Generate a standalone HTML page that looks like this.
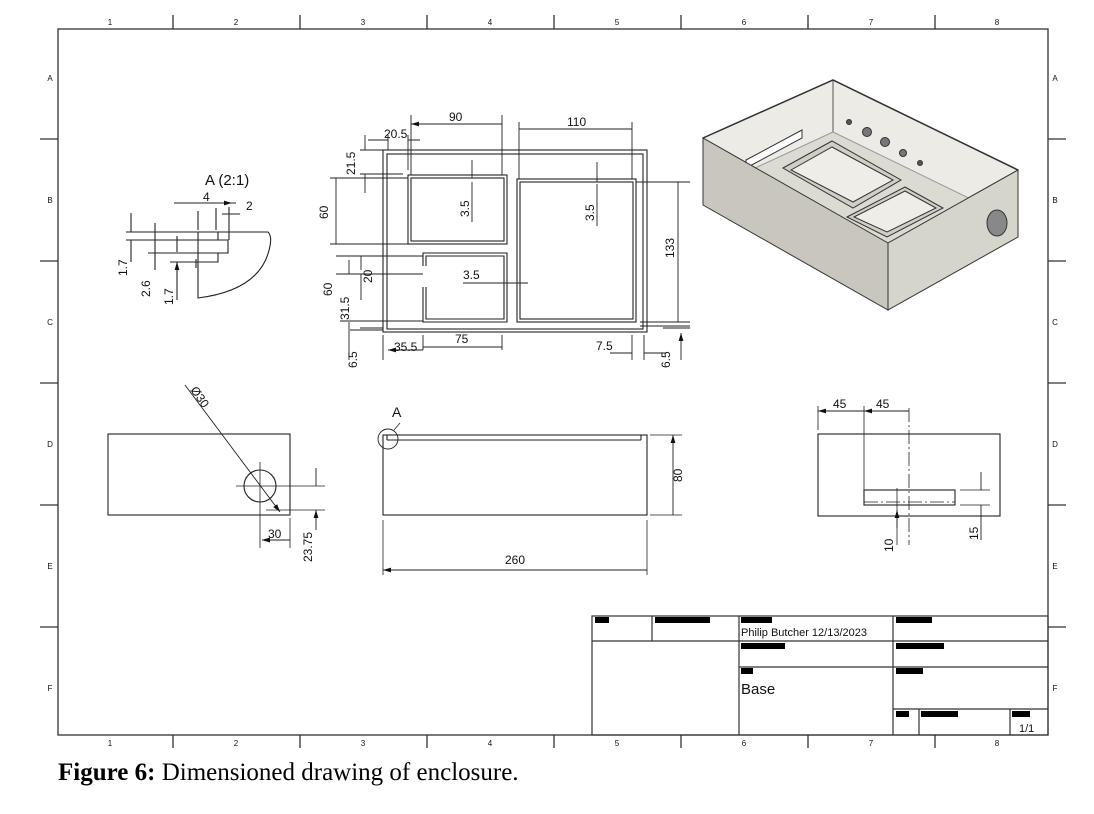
<!DOCTYPE html>
<html><head><meta charset="utf-8"><style>
html,body{margin:0;padding:0;background:#fff;width:1094px;height:814px;overflow:hidden}
svg{position:absolute;left:0;top:0}
text{font-family:"Liberation Sans",sans-serif;fill:#111}
.cap{position:absolute;left:58px;top:759px;font-family:"Liberation Serif",serif;font-size:25px;color:#000}
</style></head><body>
<svg width="1094" height="760">
<defs>
<marker id="a" viewBox="0 0 10 6" refX="10" refY="3" markerWidth="8" markerHeight="5" orient="auto-start-reverse" markerUnits="userSpaceOnUse"><path d="M0,0L10,3L0,6z" fill="#111"/></marker>
<clipPath id="op"><polygon points="703,138 833,80 1018,170 888,243"/></clipPath>
</defs>
<g stroke="#333" stroke-width="1.3" fill="none">
<rect x="58" y="29" width="990" height="706"/>
<path d="M173,15V29M300,15V29M427,15V29M554,15V29M681,15V29M808,15V29M935,15V29M173,735V748M300,735V748M427,735V748M554,735V748M681,735V748M808,735V748M935,735V748M40,139H58M40,261H58M40,383H58M40,505H58M40,627H58M1048,139H1066M1048,261H1066M1048,383H1066M1048,505H1066M1048,627H1066"/>
</g>
<g font-size="8" text-anchor="middle">
<text x="110" y="25">1</text><text x="236" y="25">2</text><text x="363" y="25">3</text><text x="490" y="25">4</text><text x="617" y="25">5</text><text x="744" y="25">6</text><text x="871" y="25">7</text><text x="997" y="25">8</text>
<text x="110" y="746">1</text><text x="236" y="746">2</text><text x="363" y="746">3</text><text x="490" y="746">4</text><text x="617" y="746">5</text><text x="744" y="746">6</text><text x="871" y="746">7</text><text x="997" y="746">8</text>
<text x="50" y="81">A</text><text x="50" y="203">B</text><text x="50" y="325">C</text><text x="50" y="447">D</text><text x="50" y="569">E</text><text x="50" y="691">F</text>
<text x="1055" y="81">A</text><text x="1055" y="203">B</text><text x="1055" y="325">C</text><text x="1055" y="447">D</text><text x="1055" y="569">E</text><text x="1055" y="691">F</text>
</g>

<!-- detail view A -->
<g stroke="#222" stroke-width="1.1" fill="none">
<path d="M198,232H268Q272,236 270,246Q262,290 198,298Z"/>
<path d="M218,232V240H228V253H218V262H198"/>
<path d="M126,232H215M126,240H218M148,253H228M170,262H210M196,259V268M174,203H236M198,211V230M216,208V230M229,207V240M222,214H240"/>
<path d="M131,213V232M131,262V240M155,223V270M177,236V252M177,300V262" marker-end="url(#a)"/>
<path d="M180,203H198M216,203H232" marker-end="url(#a)"/>
</g>
<g font-size="14">
<text x="205" y="185" font-size="15">A (2:1)</text>
<text x="203" y="201" font-size="12">4</text><text x="246" y="210" font-size="12">2</text>
<text transform="translate(127,276) rotate(-90)" font-size="12">1.7</text>
<text transform="translate(150,297) rotate(-90)" font-size="12">2.6</text>
<text transform="translate(173,305) rotate(-90)" font-size="12">1.7</text>
</g>

<!-- plan view -->
<g stroke="#222" stroke-width="1.1" fill="none">
<rect x="383" y="150" width="264" height="182"/>
<rect x="387" y="154" width="256" height="175"/>
<rect x="408" y="175" width="99" height="69"/><rect x="411" y="178" width="93" height="63"/>
<rect x="517" y="179" width="119" height="143"/><rect x="520" y="182" width="113" height="137"/>
<path d="M423,266V253H507V322H423V287M426,266V256H504V319H426V287"/>
</g>
<g stroke="#222" stroke-width="0.9" fill="none">
<path d="M411,115V175M502,115V175M519,122V179M632,122V179M388,135V150M408,135V170M360,150H383M360,174H403M330,178H408M330,244H408M336,256H423M336,274H423M340,321H423M350,330H383M636,182H690M640,322H690M383,335V360M423,335V350M502,335V350M632,335V360M644,335V360M360,328H383M663,328H690M640,326H690"/>
<path d="M411,124H502M502,124H411M519,129H632M632,129H519M336,178V244M336,244V178M678,182V322M678,322V182M423,347H502M502,347H423M388,350H423M423,350H388" marker-end="url(#a)" marker-start="url(#a)"/>
<path d="M368,140H388M408,140H420M365,135V150M365,193V174M472,160V178M472,222V182M597,162V182M597,226V184M463,283H514M528,283H510M630,353H632M630,353H610M666,353H644M361,300V274M361,270V256M349,260V274M349,322V340M349,360V332M681,360V333" marker-end="url(#a)"/>
</g>
<g font-size="12">
<text x="449" y="121">90</text><text x="567" y="126">110</text><text x="384" y="138">20.5</text>
<text transform="translate(355,175) rotate(-90)">21.5</text>
<text transform="translate(328,219) rotate(-90)">60</text>
<text transform="translate(469,217) rotate(-90)">3.5</text>
<text transform="translate(594,221) rotate(-90)">3.5</text>
<text transform="translate(674,258) rotate(-90)">133</text>
<text x="463" y="279">3.5</text>
<text transform="translate(372,283) rotate(-90)">20</text>
<text transform="translate(332,296) rotate(-90)">60</text>
<text transform="translate(349,320) rotate(-90)">31.5</text>
<text x="455" y="343">75</text><text x="394" y="351">35.5</text><text x="596" y="350">7.5</text>
<text transform="translate(357,368) rotate(-90)">6.5</text>
<text transform="translate(670,368) rotate(-90)">6.5</text>
</g>

<!-- isometric view -->
<g stroke="#333" stroke-width="1">
<polygon points="703,138 833,80 1018,170 888,243" fill="#ecebe5"/>
<g clip-path="url(#op)">
<polygon points="703,192 833,132 1018,222 888,295" fill="#dcdbd2" stroke="none"/>
<path d="M833,80V132" stroke="#555"/>
<path d="M833,132L703,192M833,132L1018,222" stroke="#999"/>
</g>
<polygon points="746,160 802,130 802,138 746,168" fill="#fff"/>
<polygon points="783,168 832,141 901,180 853,208" fill="#d0cfc6"/>
<polygon points="791,170 832,147 893,180 853,202" fill="#eeede8"/>
<polygon points="847,217 905,187 943,208 887,237" fill="#d0cfc6"/>
<polygon points="854,217 905,191 936,208 887,232" fill="#eeede8"/>
<circle cx="849" cy="122" r="2.5" fill="#555"/><circle cx="867" cy="132" r="4.5" fill="#777"/><circle cx="885" cy="142" r="4.5" fill="#777"/><circle cx="903" cy="153" r="3.5" fill="#777"/><circle cx="920" cy="163" r="2.5" fill="#555"/>
<polygon points="703,138 888,243 888,310 703,205" fill="#c9c7bd"/>
<polygon points="888,243 1018,170 1018,237 888,310" fill="#d6d5cc"/>
<ellipse cx="997" cy="223" rx="10" ry="13" fill="#888"/>
<path d="M703,138L833,80L1018,170" fill="none" stroke-width="1.5"/>
</g>

<!-- left elevation -->
<g stroke="#222" stroke-width="1.1" fill="none">
<rect x="108" y="434" width="182" height="81"/>
<circle cx="260" cy="486" r="16"/>
<path d="M236,486H284M260,462V510M260,496V548M290,518V548M262,486H325M266,510H325" stroke-width="0.8"/>
<path d="M185,385L280,512" stroke-width="0.9" marker-end="url(#a)"/>
<path d="M262,540H290M290,540H262" marker-end="url(#a)" marker-start="url(#a)" stroke-width="0.9"/>
<path d="M316,468V486M316,530V510" marker-end="url(#a)" stroke-width="0.9"/>
</g>
<g font-size="12">
<text transform="translate(190,390) rotate(55)">Ø30</text>
<text x="268" y="538">30</text>
<text transform="translate(312,562) rotate(-90)">23.75</text>
</g>

<!-- front view -->
<g stroke="#222" stroke-width="1.1" fill="none">
<rect x="383" y="435" width="264" height="80"/>
<path d="M387,440H641M641,435V440M387,435V440"/>
<circle cx="388" cy="439" r="10" stroke-width="0.9"/>
<path d="M394,430L400,423M650,435H682M650,515H682M383,520V575M647,520V575" stroke-width="0.8"/>
<path d="M673,435V515M673,515V435M383,570H647M647,570H383" marker-end="url(#a)" marker-start="url(#a)" stroke-width="0.9"/>
</g>
<g font-size="13">
<text x="392" y="417" font-size="14">A</text>
<text transform="translate(682,482) rotate(-90)" font-size="12">80</text>
<text x="505" y="564" font-size="12">260</text>
</g>

<!-- right view -->
<g stroke="#222" stroke-width="1.1" fill="none">
<rect x="818" y="434" width="182" height="82"/>
<rect x="864" y="490" width="91" height="15"/>
<path d="M864,502H955M909,408V545" stroke-width="0.8" stroke-dasharray="14,3,2,3"/>
<path d="M818,406V430M864,406V505M960,490H990M960,505H990M897,488V545" stroke-width="0.8"/>
<path d="M818,411H864M864,411H818M864,411H909M909,411H864" marker-end="url(#a)" marker-start="url(#a)" stroke-width="0.9"/>
<path d="M981,472V490M981,540V505M897,528V510" marker-end="url(#a)" stroke-width="0.9"/>
</g>
<g font-size="12">
<text x="833" y="408">45</text><text x="876" y="408">45</text>
<text transform="translate(893,552) rotate(-90)">10</text>
<text transform="translate(978,540) rotate(-90)">15</text>
</g>

<!-- title block -->
<g stroke="#333" stroke-width="1.2" fill="none">
<rect x="592" y="616" width="456" height="119"/>
<path d="M592,641H1048M739,667H1048M893,709H1048M652,616V641M739,616V735M893,616V735M919,709V735M1010,709V735"/>
</g>
<g fill="#000">
<rect x="595" y="617" width="14" height="6"/><rect x="655" y="617" width="55" height="6"/><rect x="741" y="617" width="31" height="6"/><rect x="896" y="617" width="36" height="6"/>
<rect x="741" y="643" width="44" height="6"/><rect x="896" y="643" width="48" height="6"/>
<rect x="741" y="668" width="12" height="6"/><rect x="896" y="668" width="27" height="6"/>
<rect x="896" y="711" width="13" height="6"/><rect x="921" y="711" width="37" height="6"/><rect x="1012" y="711" width="18" height="6"/>
</g>
<text x="741" y="636" font-size="11">Philip Butcher  12/13/2023</text>
<text x="741" y="694" font-size="15">Base</text>
<text x="1019" y="732" font-size="11">1/1</text>
</svg>
<div class="cap"><b>Figure 6:</b> Dimensioned drawing of enclosure.</div>
</body></html>
